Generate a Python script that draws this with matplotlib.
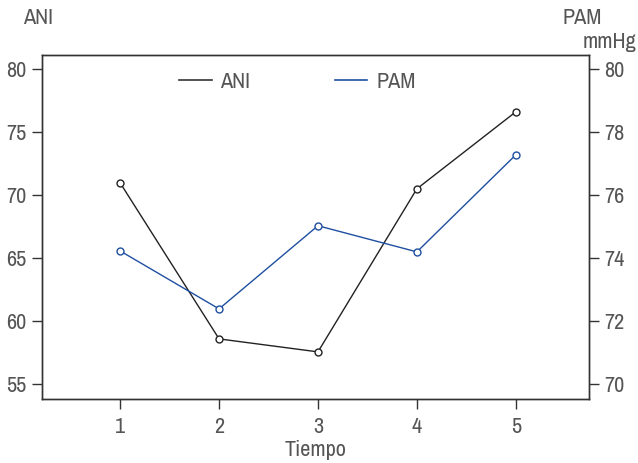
import matplotlib
matplotlib.use("Agg")
import matplotlib.pyplot as plt
from matplotlib import font_manager as fm
from matplotlib.lines import Line2D

# pick a condensed sans if one is installed
fam = None
for e in fm.fontManager.ttflist:
    if ('Narrow' in e.name or 'Condensed' in e.name or 'Narrow' in e.fname
            or 'Condensed' in e.fname) and 'Bold' not in e.fname and 'Oblique' not in e.fname and 'Italic' not in e.fname:
        fam = e.name
        if 'Narrow' in e.name or 'Narrow' in e.fname:
            break
if fam is None:
    fam = 'DejaVu Sans'
plt.rcParams['font.family'] = [fam, 'DejaVu Sans']
plt.rcParams['font.stretch'] = 'condensed'

tiempo = [1, 2, 3, 4, 5]
ani = [70.95, 58.57, 57.54, 70.48, 76.59]
pam = [74.22, 72.38, 75.02, 74.19, 77.27]
left_ticks = [55, 60, 65, 70, 75, 80]
right_ticks = [70, 72, 74, 76, 78, 80]

tc = '#555555'
fs = 16
fig = plt.figure(figsize=(6.38, 4.63), dpi=100)
ax = fig.add_axes([42/638, 1-399/463, (589-42)/638, (399-55)/463])
ax2 = ax.twinx()

ax.plot(tiempo, ani, color='#222222', lw=1.0, marker='o', ms=5,
        mfc='white', mec='#222222', mew=1.0)
ax2.plot(tiempo, pam, color='#1f4fa0', lw=1.0, marker='o', ms=5,
         mfc='white', mec='#1f4fa0', mew=1.0)

ax.set_xlim(0.21, 5.74)
ax.set_ylim(53.8, 81.1)
ax2.set_ylim(69.52, 80.44)
ax.set_xticks(tiempo)
ax.set_yticks(left_ticks)
ax2.set_yticks(right_ticks)

for a in (ax, ax2):
    a.tick_params(direction='out', length=7, width=1, colors='#333333',
                  labelcolor=tc, labelsize=fs, pad=4)
    for s in a.spines.values():
        s.set_color('#333333')
        s.set_linewidth(1)
ax.tick_params(axis='x', pad=6)

ax.set_xlabel('Tiempo', fontsize=fs, color=tc, labelpad=2)

fig.text(23/638, 1-18/463, 'ANI', fontsize=fs, color=tc, va='center', ha='left')
fig.text(582/638, 1-18/463, 'PAM', fontsize=fs, color=tc, va='center', ha='center')
fig.text(636/638, 1-42/463, 'mmHg', fontsize=fs, color=tc, va='center', ha='right')

h1 = Line2D([], [], color='#333333', lw=1.2, label='ANI')
h2 = Line2D([], [], color='#1f4fa0', lw=1.2, label='PAM')
ax.legend(handles=[h1, h2], loc='upper center', bbox_to_anchor=(0.467, 1.0),
          ncol=2, frameon=False, fontsize=fs, handlelength=1.45, handletextpad=0.4,
          columnspacing=3.8, labelcolor=tc, borderaxespad=0.35)

fig.savefig('out.png', dpi=100)
